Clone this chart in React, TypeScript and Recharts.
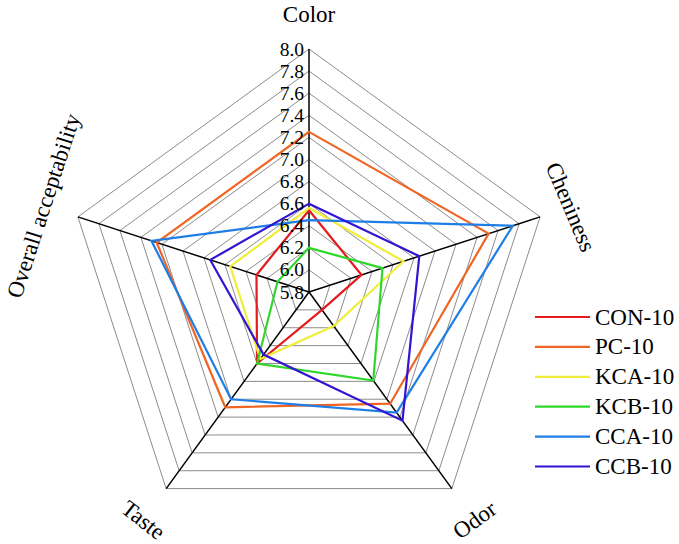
import React from 'react';
import { RadarChart, Radar, PolarGrid, PolarAngleAxis, PolarRadiusAxis, Legend } from 'recharts';

const categories = ['Color', 'Cheniness', 'Odor', 'Taste', 'Overall acceptability'];
const con10 = [6.54, 6.30, 6.00, 6.60, 6.30];
const pc10 = [7.25, 7.51, 7.05, 7.09, 7.25];
const kca10 = [6.56, 6.70, 6.18, 6.55, 6.55];
const kcb10 = [6.20, 6.50, 6.79, 6.60, 6.10];
const cca10 = [6.45, 7.74, 7.15, 7.00, 7.30];
const ccb10 = [6.60, 6.85, 7.24, 6.50, 6.74];
const radiusTicks = [5.8, 6.0, 6.2, 6.4, 6.6, 6.8, 7.0, 7.2, 7.4, 7.6, 7.8, 8.0];

const seriesNames = ['CON-10', 'PC-10', 'KCA-10', 'KCB-10', 'CCA-10', 'CCB-10'];
const seriesValues = [con10, pc10, kca10, kcb10, cca10, ccb10];
const seriesColors = ['#e41a1c', '#f06424', '#f2ec3a', '#2ed82a', '#1e7ee6', '#3214d2'];

const data = categories.map((c, i) => {
  const row: Record<string, any> = { category: c };
  seriesNames.forEach((n, s) => {
    row[n] = seriesValues[s][i];
  });
  return row;
});

const CX = 309;
const CY = 292;
const R = 243;
const FONT = '"Liberation Serif", "Times New Roman", serif';

const labelStyle: Record<string, { rot: number; r: number }> = {
  'Color': { rot: 0, r: 278 },
  'Cheniness': { rot: 67, r: 275 },
  'Odor': { rot: -36, r: 282 },
  'Taste': { rot: 38, r: 282 },
  'Overall acceptability': { rot: -72, r: 279 },
};

const AngleTick = (props: any) => {
  const { x, y, payload } = props;
  const dx = x - CX;
  const dy = y - CY;
  const len = Math.sqrt(dx * dx + dy * dy) || 1;
  const st = labelStyle[payload.value] || { rot: 0, r: 275 };
  const px = CX + (dx / len) * st.r;
  const py = CY + (dy / len) * st.r;
  return (
    <text
      x={px}
      y={py}
      textAnchor="middle"
      dominantBaseline="central"
      fontFamily={FONT}
      fontSize={23}
      fill="#000"
      transform={`rotate(${st.rot}, ${px}, ${py})`}
    >
      {payload.value}
    </text>
  );
};

const RadiusTick = (props: any) => {
  const { x, y, payload } = props;
  return (
    <text
      x={x - 5}
      y={y}
      textAnchor="end"
      dominantBaseline="central"
      fontFamily={FONT}
      fontSize={19.5}
      fill="#000"
    >
      {Number(payload.value).toFixed(1)}
    </text>
  );
};

const LegendContent = () => (
  <svg width={144} height={190} style={{ overflow: 'visible' }}>
    {seriesNames.map((n, i) => (
      <g key={n}>
        <line x1={0} x2={55} y1={9 + i * 29.9} y2={9 + i * 29.9} stroke={seriesColors[i]} strokeWidth={2.2} />
        <text x={60} y={9 + i * 29.9} dominantBaseline="central" fontFamily={FONT} fontSize={23} fill="#000">
          {n}
        </text>
      </g>
    ))}
  </svg>
);

export default function App() {
  return (
    <div style={{ width: 679, height: 544, position: 'fixed', left: 0, top: 0, background: '#fff' }}>
      <RadarChart
        width={679}
        height={544}
        data={data}
        cx={CX}
        cy={CY}
        outerRadius={R}
        margin={{ top: 0, right: 0, bottom: 0, left: 0 }}
      >
        <PolarGrid gridType="polygon" radialLines={false} stroke="#8c8c8c" strokeWidth={1} />
        <PolarGrid gridType="polygon" polarRadius={[0]} radialLines={true} stroke="#000" strokeWidth={1.5} />
        <PolarAngleAxis dataKey="category" axisLine={false} tickLine={false} tick={AngleTick} />
        <PolarRadiusAxis
          angle={90}
          type="number"
          domain={[5.8, 8.0]}
          ticks={radiusTicks}
          axisLine={false}
          tickLine={false}
          tick={RadiusTick}
          allowDataOverflow
        />
        {seriesNames.map((n, i) => (
          <Radar
            key={n}
            name={n}
            dataKey={n}
            stroke={seriesColors[i]}
            strokeWidth={2.2}
            fill="none"
            fillOpacity={0}
            dot={false}
            isAnimationActive={false}
          />
        ))}
        <Legend
          content={LegendContent}
          wrapperStyle={{ position: 'absolute', left: 535, top: 308, width: 144 }}
        />
      </RadarChart>
    </div>
  );
}
